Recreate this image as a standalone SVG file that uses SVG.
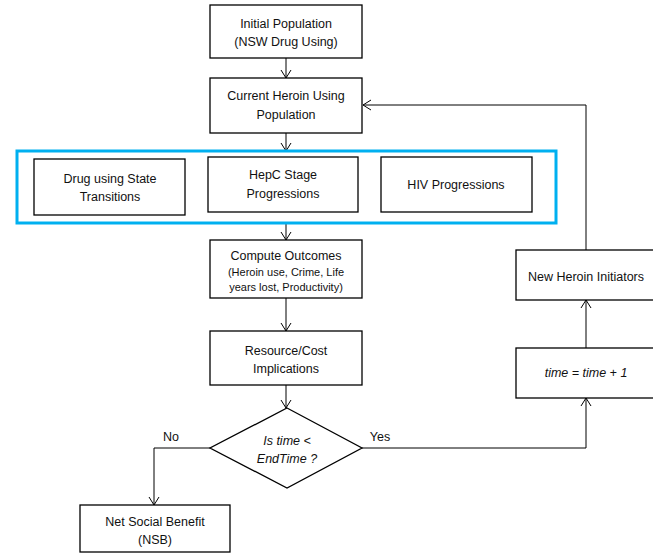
<svg xmlns="http://www.w3.org/2000/svg" width="653" height="556" viewBox="0 0 653 556">
<defs>
<style>
.box{fill:#fff;stroke:#000;stroke-width:1.3}
.t{font-family:"Liberation Sans",Arial,sans-serif;font-size:12.5px;fill:#111;text-anchor:middle}
.s{font-size:11px}
.i{font-style:italic}
.c{fill:none;stroke:#000;stroke-width:1}
</style>
<marker id="ah" markerUnits="userSpaceOnUse" markerWidth="12" markerHeight="12" viewBox="-10 -6 12 12" refX="0" refY="0" orient="auto">
<path d="M-8,-5 L0,0 L-8,5" fill="none" stroke="#000" stroke-width="1"/>
</marker>
</defs>
<rect width="653" height="556" fill="#fff"/>
<g id="connectors">
<line class="c" x1="286" y1="58" x2="286" y2="78" marker-end="url(#ah)"/>
<line class="c" x1="286" y1="133" x2="286" y2="151" marker-end="url(#ah)"/>
<line class="c" x1="286" y1="223" x2="286" y2="240" marker-end="url(#ah)"/>
<line class="c" x1="286" y1="298" x2="286" y2="331" marker-end="url(#ah)"/>
<line class="c" x1="286" y1="385" x2="286" y2="408" marker-end="url(#ah)"/>
<polyline class="c" points="210,448 154,448 154,505" marker-end="url(#ah)"/>
<polyline class="c" points="362,448 586,448 586,398" marker-end="url(#ah)"/>
<line class="c" x1="586" y1="348" x2="586" y2="300" marker-end="url(#ah)"/>
<polyline class="c" points="586,252 586,105 363,105" marker-end="url(#ah)"/>
<text class="t" x="171" y="441">No</text>
<text class="t" x="380" y="441">Yes</text>
</g>
<g id="n1"><rect class="box" x="210" y="5" width="152" height="53"/>
<text class="t" x="286" y="28">Initial Population</text><text class="t" x="286" y="46">(NSW Drug Using)</text></g>
<g id="n2"><rect class="box" x="210" y="78" width="152" height="55"/>
<text class="t" x="286" y="100">Current Heroin Using</text><text class="t" x="286" y="119">Population</text></g>
<g id="group"><rect x="17" y="151" width="539" height="72" fill="none" stroke="#00b0f0" stroke-width="3"/></g>
<g id="n3"><rect class="box" x="34" y="159" width="151" height="56"/>
<text class="t" x="110" y="183">Drug using State</text><text class="t" x="110" y="201">Transitions</text></g>
<g id="n4"><rect class="box" x="208" y="157" width="150" height="55"/>
<text class="t" x="283" y="179">HepC Stage</text><text class="t" x="283" y="198">Progressions</text></g>
<g id="n5"><rect class="box" x="381" y="157" width="151" height="55"/>
<text class="t" x="456" y="189">HIV Progressions</text></g>
<g id="n6"><rect class="box" x="210" y="240" width="152" height="58"/>
<text class="t" x="286" y="260">Compute Outcomes</text><text class="t s" x="286" y="276">(Heroin use, Crime, Life</text><text class="t s" x="286" y="291">years lost, Productivity)</text></g>
<g id="n7"><rect class="box" x="210" y="331" width="152" height="54"/>
<text class="t" x="286" y="355">Resource/Cost</text><text class="t" x="286" y="373">Implications</text></g>
<g id="n8"><polygon class="box" points="287,408 362,448 287,488 210,448"/>
<text class="t i" x="287" y="445">Is time &lt;</text><text class="t i" x="287" y="463">EndTime ?</text></g>
<g id="n9"><rect class="box" x="80" y="505" width="150" height="47"/>
<text class="t" x="155" y="526">Net Social Benefit</text><text class="t" x="155" y="544">(NSB)</text></g>
<g id="n10"><rect class="box" x="516" y="348" width="140" height="50"/>
<text class="t i" x="586" y="377">time = time + 1</text></g>
<g id="n11"><rect class="box" x="516" y="250" width="140" height="50"/>
<text class="t" x="586" y="281">New Heroin Initiators</text></g>
</svg>
